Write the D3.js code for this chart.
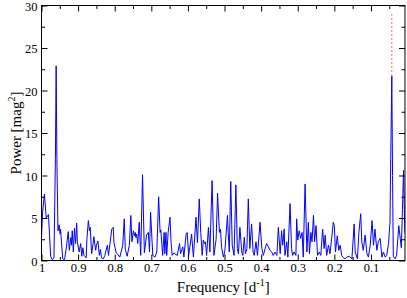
<!DOCTYPE html>
<html><head><meta charset="utf-8">
<script src="https://cdn.jsdelivr.net/npm/d3@7"></script>
<style>body{margin:0;background:#fff} svg{display:block}</style>
</head><body>
<script>
// Periodogram data (frequency in d^-1, power in mag^2)
const frequency = [
 1.000,0.997,0.992,0.987,0.981,0.975,0.971,0.966,0.962,0.960,
 0.958,0.955,0.952,0.949,0.948,0.942,0.937,0.932,0.927,0.924,
 0.920,0.918,0.916,0.913,0.910,0.907,0.904,0.902,0.897,0.893,
 0.890,0.887,0.884,0.878,0.876,0.872,0.869,0.867,0.863,0.859,
 0.857,0.852,0.850,0.846,0.842,0.839,0.836,0.831,0.827,0.820,
 0.817,0.808,0.804,0.802,0.796,0.793,0.786,0.778,0.774,0.771,
 0.766,0.760,0.756,0.753,0.749,0.746,0.744,0.742,0.740,0.737,
 0.733,0.729,0.724,0.719,0.713,0.708,0.705,0.702,0.696,0.690,
 0.685,0.680,0.676,0.674,0.669,0.665,0.663,0.660,0.658,0.654,
 0.649,0.646,0.643,0.638,0.633,0.629,0.623,0.620,0.614,0.611,
 0.605,0.602,0.598,0.590,0.585,0.578,0.574,0.569,0.565,0.561,
 0.558,0.555,0.552,0.549,0.544,0.540,0.534,0.529,0.523,0.519,
 0.514,0.511,0.508,0.503,0.499,0.492,0.490,0.487,0.483,0.479,
 0.474,0.469,0.465,0.462,0.458,0.453,0.450,0.446,0.443,0.439,
 0.435,0.431,0.426,0.422,0.419,0.414,0.410,0.403,0.398,0.394,
 0.389,0.385,0.380,0.376,0.371,0.367,0.362,0.357,0.353,0.348,
 0.344,0.341,0.337,0.335,0.330,0.327,0.321,0.317,0.314,0.310,
 0.305,0.303,0.300,0.296,0.292,0.288,0.285,0.280,0.275,0.271,
 0.268,0.264,0.261,0.257,0.254,0.250,0.246,0.241,0.237,0.232,
 0.228,0.225,0.221,0.216,0.212,0.207,0.203,0.200,0.197,0.192,
 0.188,0.184,0.180,0.177,0.171,0.166,0.159,0.152,0.146,0.143,
 0.137,0.133,0.128,0.125,0.121,0.116,0.111,0.107,0.102,0.097,
 0.093,0.089,0.084,0.080,0.075,0.070,0.066,0.061,0.057,0.052,
 0.048,0.046,0.043,0.041,0.039,0.034,0.030,0.024,0.020,0.017,
 0.014,0.011,0.009,0.007
];
const power = [
 2.6,5.7,7.8,5.0,5.4,0.5,0.1,0.3,12,22.9,
 12,3.5,4.2,3.1,3.7,0.2,0.1,1.6,3.4,1.2,
 2.7,1.8,3.5,1.0,3.8,2.0,4.4,2.2,1.0,2.0,
 0.5,1.5,0.6,0.3,2.5,4.7,3.5,3.9,0.8,2.0,
 2.8,1.2,1.8,2.3,0.6,1.3,0.3,0.2,0.6,1.8,
 0.6,3.7,3.9,2.1,0.9,0.8,0.4,1.8,4.9,1.3,
 0.5,1.8,5.3,2.2,3.5,2.9,3.3,2.7,3.1,2.0,
 4.5,0.6,10.1,0.9,3.0,3.3,1.0,5.7,0.6,0.4,
 1.0,7.5,3.3,3.6,0.6,3.3,0.8,3.3,0.6,3.3,
 5.1,2.1,0.6,0.9,0.7,0.6,2.0,0.8,1.6,0.4,
 3.1,3.3,0.6,3.1,0.4,5.1,2.1,7.25,3.3,0.6,
 2.4,2.0,2.2,0.6,3.9,1.0,9.4,0.6,2.5,7.9,
 3.3,3.7,1.5,0.4,1.2,5.3,3.3,1.0,9.3,1.8,
 0.6,8.9,1.4,0.8,3.9,1.0,0.6,2.75,0.8,1.4,
 7.25,1.4,4.3,1.0,0.6,2.2,0.6,4.5,1.4,0.6,
 1.4,2.0,1.6,1.2,1.0,0.6,1.0,0.6,3.9,0.8,
 3.5,1.8,3.7,0.6,2.2,0.4,6.7,1.4,0.6,1.0,
 0.6,4.9,2.4,3.5,2.6,3.3,0.4,9.0,1.0,4.5,
 0.8,3.3,2.2,5.3,2.2,4.1,0.6,1.0,0.6,3.7,
 1.4,3.0,0.6,1.8,0.8,2.75,4.5,4.1,1.0,2.9,
 1.2,1.8,0.6,0.4,0.2,0.4,0.5,0.2,4.3,1.0,
 0.2,3.3,5.5,2.2,1.2,3.0,0.8,0.4,1.8,4.7,
 1.8,3.7,1.2,2.2,2.6,0.4,1.0,0.4,0.6,2.0,
 4.5,12,21.7,10,0.5,0.2,0.6,4.1,2.6,1.5,
 6,10.6,6,3.2
];
const xMajorTicks = [1,0.9,0.8,0.7,0.6,0.5,0.4,0.3,0.2,0.1];
const xMinorTicks = [0.95,0.85,0.75,0.65,0.55,0.45,0.35,0.25,0.15,0.05];
const yMajorTicks = [0,5,10,15,20,25,30];
const yMinorTicks = [2.5,7.5,12.5,17.5,22.5,27.5];
const markerFrequency = 0.043;
const markerPower = [21.7, 29];
const xDomain = [1, 0.007];
const yDomain = [0, 30];

const W = 407, H = 298;
const L = 41.5, R = 405, T = 5.5, B = 260.5;
const x = d3.scaleLinear().domain(xDomain).range([L, R]);
const y = d3.scaleLinear().domain(yDomain).range([B, T]);
const font = "'Liberation Serif','Times New Roman',serif";

const svg = d3.select("body").append("svg").attr("width", W).attr("height", H);

svg.append("defs").append("clipPath").attr("id","clip")
  .append("rect").attr("x",L).attr("y",T).attr("width",R-L).attr("height",B-T);

// marker line (red dotted)
svg.append("line")
  .attr("x1", x(markerFrequency)).attr("x2", x(markerFrequency))
  .attr("y1", y(markerPower[0])).attr("y2", y(markerPower[1]))
  .attr("stroke", "#ff6666").attr("stroke-width", 1).attr("stroke-dasharray", "2,2");

const line = d3.line().x((d,i) => x(frequency[i])).y((d,i) => y(power[i]));
svg.append("path").datum(power)
  .attr("clip-path","url(#clip)")
  .attr("d", line).attr("fill","none").attr("stroke","#0000ff").attr("stroke-width",1);

function styleAxis(g){
  g.select(".domain").remove();
  g.selectAll("line").attr("stroke","#000");
  g.selectAll("text").attr("font-family", font).attr("font-size", 12.5).attr("fill","#000");
}
// bottom
svg.append("g").attr("transform",`translate(0,${B})`)
  .call(d3.axisBottom(x).tickValues(xMajorTicks).tickSizeInner(-6).tickSizeOuter(0).tickPadding(3).tickFormat(d3.format("~g")))
  .call(styleAxis);
svg.append("g").attr("transform",`translate(0,${B})`)
  .call(d3.axisBottom(x).tickValues(xMinorTicks).tickSizeInner(-3.5).tickSizeOuter(0).tickFormat(""))
  .call(styleAxis);
// top
svg.append("g").attr("transform",`translate(0,${T})`)
  .call(d3.axisTop(x).tickValues(xMajorTicks).tickSizeInner(-6).tickSizeOuter(0).tickFormat(""))
  .call(styleAxis);
svg.append("g").attr("transform",`translate(0,${T})`)
  .call(d3.axisTop(x).tickValues(xMinorTicks).tickSizeInner(-3.5).tickSizeOuter(0).tickFormat(""))
  .call(styleAxis);
// left
svg.append("g").attr("transform",`translate(${L},0)`)
  .call(d3.axisLeft(y).tickValues(yMajorTicks).tickSizeInner(-6).tickSizeOuter(0).tickPadding(4).tickFormat(d3.format("d")))
  .call(styleAxis)
  .call(g => g.selectAll("text").attr("dy","0.38em"));
svg.append("g").attr("transform",`translate(${L},0)`)
  .call(d3.axisLeft(y).tickValues(yMinorTicks).tickSizeInner(-3.5).tickSizeOuter(0).tickFormat(""))
  .call(styleAxis);
// right
svg.append("g").attr("transform",`translate(${R},0)`)
  .call(d3.axisRight(y).tickValues(yMajorTicks).tickSizeInner(-6).tickSizeOuter(0).tickFormat(""))
  .call(styleAxis);
svg.append("g").attr("transform",`translate(${R},0)`)
  .call(d3.axisRight(y).tickValues(yMinorTicks).tickSizeInner(-3.5).tickSizeOuter(0).tickFormat(""))
  .call(styleAxis);

// frame
svg.append("rect").attr("x",L).attr("y",T).attr("width",R-L).attr("height",B-T)
  .attr("fill","none").attr("stroke","#000").attr("stroke-width",1);

// axis titles
const xt = svg.append("text").attr("x", (L+R)/2).attr("y", 292)
  .attr("text-anchor","middle").attr("font-family",font).attr("font-size",15).attr("fill","#000");
xt.append("tspan").text("Frequency [d");
xt.append("tspan").attr("dy",-6).attr("font-size",10).text("-1");
xt.append("tspan").attr("dy",6).text("]");

const yt = svg.append("text").attr("transform",`translate(21,${(T+B)/2}) rotate(-90)`)
  .attr("text-anchor","middle").attr("font-family",font).attr("font-size",15).attr("fill","#000");
yt.append("tspan").text("Power [mag");
yt.append("tspan").attr("dy",-6).attr("font-size",10).text("2");
yt.append("tspan").attr("dy",6).text("]");
</script>
</body></html>
